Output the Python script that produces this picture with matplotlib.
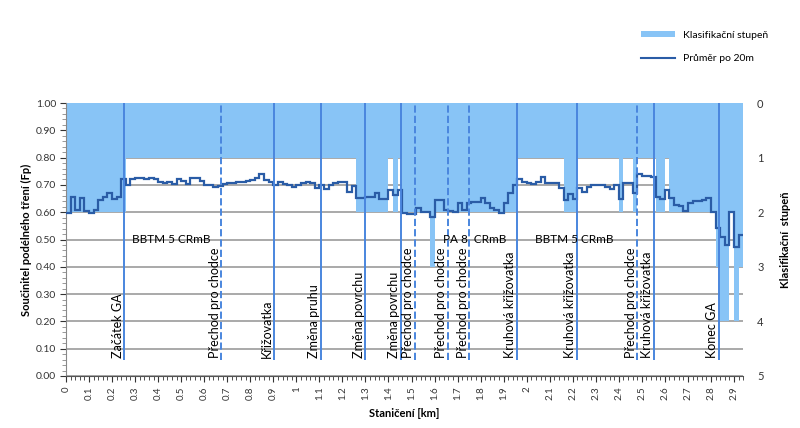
import numpy as np
import matplotlib
matplotlib.use('Agg')
import matplotlib.pyplot as plt
from matplotlib.ticker import MultipleLocator, FormatStrFormatter, FuncFormatter
from matplotlib.lines import Line2D
from matplotlib.patches import Patch

plt.rcParams['font.family'] = ['Lato', 'DejaVu Sans']

# delka useku [km]
krok = 0.02

# prumer Fp po 20 m
fp = [0.596, 0.654, 0.608, 0.651, 0.606, 0.596, 0.608, 0.645, 0.657, 0.669, 0.647, 0.657,
      0.72, 0.70,
      0.72, 0.724, 0.724, 0.72, 0.726, 0.72,
      0.71, 0.708, 0.71, 0.702, 0.72, 0.715, 0.705, 0.727, 0.727, 0.715, 0.70, 0.70, 0.691, 0.696, 0.702, 0.706,
      0.706, 0.709, 0.712, 0.716, 0.718, 0.724, 0.74, 0.718, 0.712, 0.70, 0.712, 0.703, 0.70, 0.693,
      0.70, 0.706, 0.712, 0.706, 0.687, 0.70, 0.684, 0.70, 0.706, 0.71, 0.71, 0.675, 0.695,
      0.651, 0.651, 0.654, 0.654, 0.669, 0.647, 0.647, 0.681, 0.663, 0.681, 0.596, 0.593, 0.593, 0.614, 0.602, 0.602, 0.584,
      0.645, 0.645, 0.607, 0.606, 0.60, 0.633, 0.608, 0.633, 0.639, 0.639, 0.651, 0.633, 0.614, 0.608, 0.598, 0.633, 0.669,
      0.70, 0.72, 0.712, 0.706, 0.702, 0.712, 0.73, 0.708, 0.708, 0.706, 0.69,
      0.645, 0.665, 0.648, 0.69, 0.675, 0.693, 0.70, 0.70, 0.70, 0.693, 0.684, 0.70,
      0.647, 0.706, 0.706, 0.669, 0.74, 0.733, 0.731, 0.728, 0.657, 0.647, 0.681, 0.651, 0.627, 0.621, 0.603, 0.635, 0.64, 0.64, 0.645, 0.651,
      0.60, 0.541, 0.511, 0.48, 0.60, 0.474, 0.517]

# klasifikacni stupen po 20 m
stupen = [2, 2, 2, 2, 2, 2, 2, 2, 2, 2, 2, 2, 2,
          1, 1, 1, 1, 1, 1, 1, 1, 1, 1, 1, 1, 1, 1, 1, 1, 1, 1, 1, 1, 1, 1, 1, 1, 1,
          1, 1, 1, 1, 1, 1, 1, 1, 1, 1, 1, 1, 1, 1, 1, 1, 1, 1, 1, 1, 1, 1, 1, 1, 1,
          2, 2, 2, 2, 2, 2, 2, 1, 2, 1, 2, 2, 2, 2, 2, 2, 3,
          2, 2, 2, 2, 2, 2, 2, 2, 2, 2, 2, 2, 2, 2, 2, 2, 2, 2,
          1, 1, 1, 1, 1, 1, 1, 1, 1, 1,
          2, 2, 2,
          1, 1, 1, 1, 1, 1, 1, 1, 1,
          2, 1, 1, 2, 1, 1, 1, 1, 2, 2, 1,
          2, 2, 2, 2, 2, 2, 2, 2, 2, 2,
          3, 4, 4, 2, 4, 3]

udalosti = ["Začátek GA", "Přechod pro chodce", "Křižovatka", "Změna pruhu", "Změna povrchu",
            "Změna povrchu", "Přechod pro chodce", "Přechod pro chodce", "Přechod pro chodce",
            "Kruhová křižovatka", "Kruhová křižovatka", "Přechod pro chodce", "Kruhová křižovatka",
            "Konec GA"]
staniceni_udalosti = [0.253, 0.675, 0.903, 1.105, 1.30, 1.455, 1.513, 1.657, 1.751,
                      1.956, 2.218, 2.481, 2.553, 2.835]

povrchy = ["BBTM 5 CRmB", "PA 8  CRmB", "BBTM 5 CRmB"]
staniceni_povrchu = [0.455, 1.773, 2.205]

barva_sloupce = '#88c4f6'
barva_cary = '#2a5ca6'
barva_udalosti = '#4a86de'

n = len(fp)
hrany = np.arange(n + 1) * krok

fig = plt.figure(figsize=(8, 4.28), dpi=100)
ax = fig.add_axes([0.0825, 0.1215, 0.8465, 0.6378])
ax2 = ax.twinx()
ax.set_zorder(ax2.get_zorder() + 1)
ax.patch.set_visible(False)

# klasifikace - sloupce od horniho okraje
ax2.bar(hrany[:-1], stupen, width=krok, align='edge', color=barva_sloupce, linewidth=0, zorder=2)
ax2.set_ylim(5, 0)
ax2.set_yticks(range(6))
ax2.yaxis.set_minor_locator(MultipleLocator(0.5))
ax2.set_axisbelow(True)
ax2.grid(True, which='both', axis='y', color='#a3a3a3', linewidth=1.3)
ax2.tick_params(axis='y', which='both', length=0, pad=10, labelsize=8, colors='#333333')
ax2.set_ylabel('Klasifikační  stupeň', fontsize=8, fontweight='bold', labelpad=12)

# prumer Fp
ax.stairs(fp, hrany, baseline=None, color=barva_cary, linewidth=1.6, zorder=3)

for poz, txt in zip(staniceni_udalosti, udalosti):
    styl = '--' if txt.startswith('Přechod') else '-'
    ax.vlines(poz, 0.06, 1.0, colors=barva_udalosti, linestyles=styl, linewidth=1.4, zorder=4)
    ax.annotate(txt, (poz, 0.065), xytext=(-0.5, 0), textcoords='offset points',
                rotation=90, ha='right', va='bottom', fontsize=9, zorder=5)

for poz, txt in zip(staniceni_povrchu, povrchy):
    ax.text(poz, 0.5, txt, ha='center', va='center', fontsize=8.5, zorder=5)

ax.set_xlim(0, hrany[-1])
ax.set_ylim(0, 1)
ax.xaxis.set_major_locator(MultipleLocator(0.1))
ax.xaxis.set_minor_locator(MultipleLocator(krok))
ax.xaxis.set_major_formatter(FuncFormatter(lambda v, p: '%g' % round(v, 1)))
ax.yaxis.set_major_locator(MultipleLocator(0.1))
ax.yaxis.set_minor_locator(MultipleLocator(0.02))
ax.yaxis.set_major_formatter(FormatStrFormatter('%.2f'))
ax.tick_params(axis='x', which='major', labelrotation=90, labelsize=7, length=4, colors='#333333')
ax.tick_params(axis='x', which='minor', length=3, color='#333333')
ax.tick_params(axis='y', which='major', labelsize=7.5, length=4, pad=3, colors='#333333')
ax.tick_params(axis='y', which='minor', length=3, color='#888888')
ax.set_xlabel('Staničení [km]', fontsize=8, fontweight='bold', labelpad=6)
ax.set_ylabel('Součinitel podélného tření (Fp)', fontsize=8, fontweight='bold', labelpad=3)

for a in (ax, ax2):
    a.spines['top'].set_visible(False)
    a.spines['right'].set_visible(False)
    a.spines['left'].set_visible(False)
ax.spines['left'].set_visible(True)
ax.spines['left'].set_color('#888888')
ax.spines['bottom'].set_color('#555555')
ax2.spines['bottom'].set_visible(False)

handles = [Patch(facecolor=barva_sloupce, edgecolor='none'),
           Line2D([0], [0], color=barva_cary, linewidth=1.5)]
fig.legend(handles, ['Klasifikační stupeň', 'Průměr po 20m'], loc='upper left',
           bbox_to_anchor=(0.79, 0.95), frameon=False, fontsize=7.5,
           handlelength=3.2, handleheight=0.6, labelspacing=1.4)

fig.savefig('out.png', dpi=100)
